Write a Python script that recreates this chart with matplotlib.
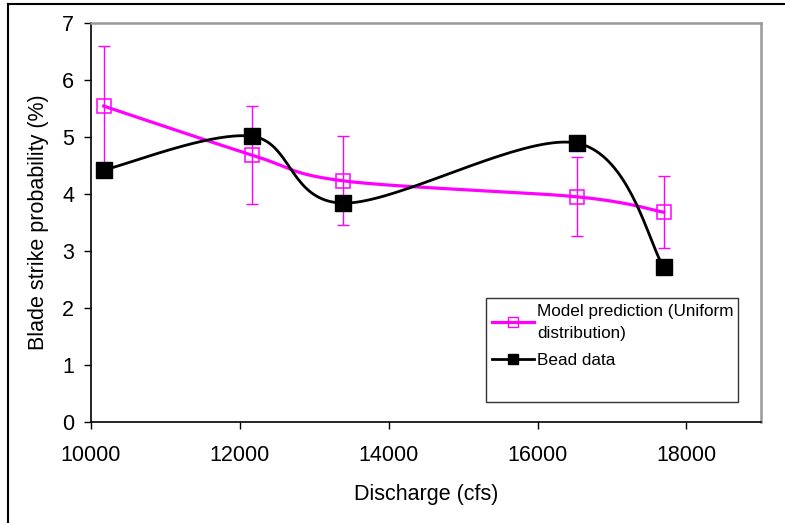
import numpy as np
import matplotlib
matplotlib.use("Agg")
import matplotlib.pyplot as plt
from matplotlib.lines import Line2D

plt.rcParams["font.family"] = ["Liberation Sans", "DejaVu Sans"]

# values
discharge = [10175, 12170, 13390, 16530, 17695]
model_pred = [5.54, 4.68, 4.23, 3.95, 3.68]
model_err = [1.05, 0.86, 0.78, 0.69, 0.63]
bead_data = [4.42, 5.01, 3.84, 4.89, 2.72]

x_ticks = [10000, 12000, 14000, 16000, 18000]
y_ticks = [0, 1, 2, 3, 4, 5, 6, 7]

MAGENTA = "#FF00FF"


def smooth(xs, ys, n=40):
    """Excel-style smoothed line: cubic Bezier through the points (Catmull-Rom)."""
    p = np.column_stack([xs, ys]).astype(float)
    ext = np.vstack([p[0], p, p[-1]])
    t = np.linspace(0, 1, n)[:, None]
    out = []
    for i in range(len(p) - 1):
        p0, p3 = ext[i + 1], ext[i + 2]
        c1 = p0 + (ext[i + 2] - ext[i]) / 6.0
        c2 = p3 - (ext[i + 3] - ext[i + 1]) / 6.0
        seg = ((1 - t) ** 3) * p0 + 3 * ((1 - t) ** 2) * t * c1 \
            + 3 * (1 - t) * t ** 2 * c2 + t ** 3 * p3
        out.append(seg if i == 0 else seg[1:])
    seg = np.vstack(out)
    return seg[:, 0], seg[:, 1]


fig = plt.figure(figsize=(7.85, 5.23), dpi=100)
ax = fig.add_axes([0.1155, 0.1925, 0.8539, 0.7641])

# outer chart frame: only left and top edges fall inside the image
fx, fy = 7.5 / 785, 1 - 3.5 / 523
fig.add_artist(Line2D([fx, fx], [-0.1, fy], transform=fig.transFigure,
                      color="black", linewidth=1.5))
fig.add_artist(Line2D([fx, 1.1], [fy, fy], transform=fig.transFigure,
                      color="black", linewidth=1.5))

sx, sy = smooth(discharge, model_pred)
ax.plot(sx, sy, color=MAGENTA, linewidth=2.3, zorder=2)
ax.errorbar(discharge, model_pred, yerr=model_err, fmt="none",
            ecolor=MAGENTA, elinewidth=1.0, capsize=4.5, capthick=1.0, zorder=2)
ax.plot(discharge, model_pred, linestyle="none", marker="s", markersize=10,
        markerfacecolor="none", markeredgecolor=MAGENTA,
        markeredgewidth=1.1, zorder=3)

bx, by = smooth(discharge, bead_data)
ax.plot(bx, by, color="black", linewidth=2.0, zorder=4)
ax.plot(discharge, bead_data, linestyle="none", marker="s", markersize=11,
        color="black", zorder=5)

ax.set_xlim(10000, 19000)
ax.set_ylim(0, 7)
ax.set_xticks(x_ticks)
ax.set_yticks(y_ticks)
ax.tick_params(axis="both", labelsize=15.5, direction="out", length=5, width=1.0,
               color="black")
ax.tick_params(axis="x", pad=11)
ax.tick_params(axis="y", pad=7)

for side in ["top", "right"]:
    ax.spines[side].set_color("#999999")
    ax.spines[side].set_linewidth(1.8)
for side in ["left", "bottom"]:
    ax.spines[side].set_color("black")
    ax.spines[side].set_linewidth(1.2)

ax.set_xlabel("Discharge (cfs)", fontsize=15.5, labelpad=13)
ax.set_ylabel("Blade strike probability (%)", fontsize=15.5, labelpad=9)

# legend handles
h1 = Line2D([], [], color=MAGENTA, linewidth=2.3, marker="s", markersize=6.5,
            markerfacecolor="none", markeredgecolor=MAGENTA, markeredgewidth=1.0)
h2 = Line2D([], [], color="black", linewidth=2.0, marker="s", markersize=6.5)
h3 = Line2D([], [], alpha=0)
leg = ax.legend([h1, h2, h3], ["Model prediction (Uniform\ndistribution)", "Bead data", " "],
                loc="upper left", bbox_to_anchor=(0.59, 0.051, 0.375, 0.26),
                mode="expand", fontsize=12.3, frameon=True, fancybox=False,
                handlelength=2.45, handletextpad=0.2, borderpad=0.35,
                labelspacing=0.75, borderaxespad=0)
for txt in leg.get_texts():
    txt.set_linespacing(1.55)
leg.get_frame().set_edgecolor("black")
leg.get_frame().set_linewidth(1.0)

fig.savefig("out.png", dpi=100)
